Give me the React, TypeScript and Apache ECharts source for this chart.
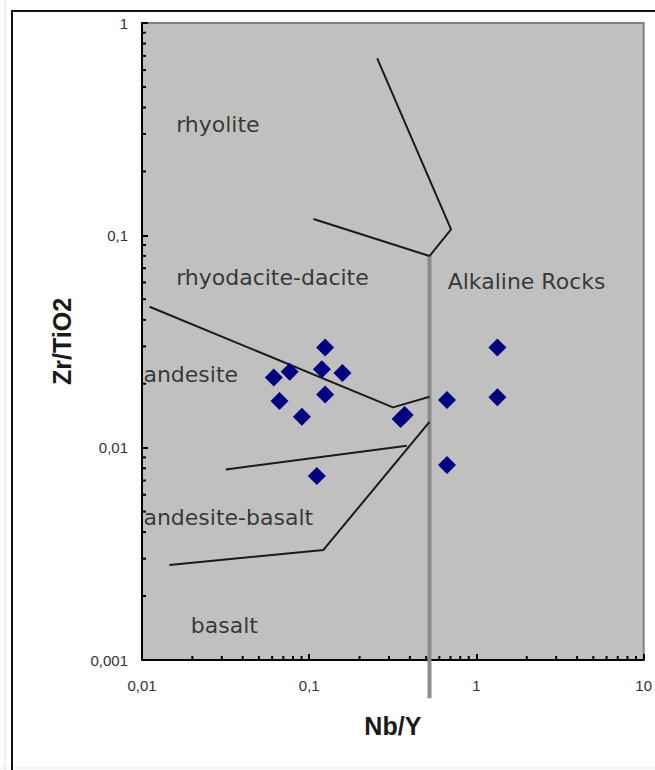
import React, { useEffect, useRef } from "react";
import * as echarts from "echarts";

// Axis tick labels (decimal comma, as in the reference)
const xTickLabels = ["0,01", "0,1", "1", "10"];
const yTickLabels = ["0,001", "0,01", "0,1", "1"];
const xAxisTitle = "Nb/Y";
const yAxisTitle = "Zr/TiO2";

// Minor tick multipliers per decade
const minorMultipliers = [2, 3, 4, 5, 6, 7, 8, 9];
const xDecades = [0.01, 0.1, 1];
const yDecades = [0.001, 0.01, 0.1];

// Samples (Nb/Y, Zr/TiO2)
const sampleNbY = [0.1245, 0.0764, 0.0614, 0.119, 0.158, 0.0664, 0.1245, 0.0904, 0.352, 0.372, 0.111, 1.334, 0.667, 1.334, 0.667];
const sampleZrTiO2 = [0.0296, 0.0228, 0.0214, 0.0234, 0.0225, 0.0166, 0.0178, 0.014, 0.01364, 0.01425, 0.00735, 0.0296, 0.01676, 0.01726, 0.00828];

// Field boundaries
const rhyoliteAlkalineX = [0.255, 0.705, 0.524];
const rhyoliteAlkalineY = [0.682, 0.1067, 0.0799];
const rhyoliteRhyodaciteX = [0.106, 0.524];
const rhyoliteRhyodaciteY = [0.1193, 0.0799];
const rhyodaciteAndesiteX = [0.0111, 0.317, 0.524];
const rhyodaciteAndesiteY = [0.0461, 0.01548, 0.01738];
const andesiteBasaltX = [0.0317, 0.384];
const andesiteBasaltY = [0.0079, 0.01022];
const basaltX = [0.01457, 0.1216, 0.524];
const basaltY = [0.0028, 0.0033, 0.01324];
const alkalineDividerX = [0.524, 0.524];
const alkalineDividerY = [0.0799, 0.00066];

// Field names
const fieldNames = ["rhyolite", "rhyodacite-dacite", "andesite", "Alkaline Rocks", "andesite-basalt", "basalt"];
const fieldNbY = [0.016, 0.016, 0.0102, 0.673, 0.0102, 0.0196];
const fieldZrTiO2 = [0.331, 0.0636, 0.0222, 0.0603, 0.00471, 0.00146];

const zip = (xs: number[], ys: number[]) => xs.map((x, i) => [x, ys[i]]);

export default function App() {
  const ref = useRef<HTMLDivElement>(null);
  useEffect(() => {
    if (!ref.current) return;
    const chart = echarts.init(ref.current, null, { renderer: "svg" });

    const boundary = (xs: number[], ys: number[]) => ({
      type: "line",
      data: zip(xs, ys),
      symbol: "none",
      lineStyle: { color: "#1a1a1a", width: 2 },
      silent: true,
      z: 3,
    });

    const xMinor: number[][] = [];
    xDecades.forEach((d) => minorMultipliers.forEach((m) => xMinor.push([d * m, 0.001])));
    const yMinor: number[][] = [];
    yDecades.forEach((d) => minorMultipliers.forEach((m) => yMinor.push([0.01, d * m])));

    const option: any = {
      animation: false,
      grid: {
        left: 142,
        top: 23,
        width: 505,
        height: 637,
        show: true,
        backgroundColor: "#c0c0c0",
        borderColor: "#808080",
        borderWidth: 2,
      },
      xAxis: {
        type: "log",
        logBase: 10,
        min: 0.01,
        max: 10,
        name: xAxisTitle,
        nameLocation: "middle",
        nameGap: 53,
        nameTextStyle: { fontFamily: "Liberation Sans, Arial", fontWeight: "bold", fontSize: 25, color: "#1a1a1a" },
        axisLine: { show: true, lineStyle: { color: "#000", width: 2 } },
        axisTick: { show: true, inside: true, length: 6, lineStyle: { color: "#000", width: 2 } },
        axisLabel: {
          margin: 18,
          fontFamily: "Liberation Sans, Arial",
          fontSize: 15,
          color: "#333",
          formatter: (v: number) => xTickLabels[Math.round(Math.log10(v)) + 2],
        },
        splitLine: { show: false },
      },
      yAxis: {
        type: "log",
        logBase: 10,
        min: 0.001,
        max: 1,
        name: yAxisTitle,
        nameLocation: "middle",
        nameRotate: 90,
        nameGap: 68,
        nameTextStyle: { fontFamily: "Liberation Sans, Arial", fontWeight: "bold", fontSize: 25, color: "#1a1a1a" },
        axisLine: { show: true, lineStyle: { color: "#000", width: 2 } },
        axisTick: { show: true, inside: true, length: 6, lineStyle: { color: "#000", width: 2 } },
        axisLabel: {
          margin: 14,
          fontFamily: "Liberation Sans, Arial",
          fontSize: 15,
          color: "#333",
          formatter: (v: number) => yTickLabels[Math.round(Math.log10(v)) + 3],
        },
        splitLine: { show: false },
      },
      graphic: [
        { type: "line", shape: { x1: 5, y1: 0, x2: 5, y2: 770 }, style: { stroke: "#e2e2e2", lineWidth: 1 } },
        { type: "line", shape: { x1: 0, y1: 768, x2: 655, y2: 768 }, style: { stroke: "#ececec", lineWidth: 1 } },
        { type: "rect", shape: { x: 12, y: 11, width: 700, height: 800 }, style: { fill: "none", stroke: "#111", lineWidth: 2 } },
      ],
      series: [
        {
          type: "custom",
          data: xMinor,
          silent: true,
          z: 4,
          renderItem: (params: any, api: any) => {
            const p = api.coord([api.value(0), api.value(1)]);
            return { type: "line", shape: { x1: p[0], y1: p[1], x2: p[0], y2: p[1] - 4 }, style: { stroke: "#000", lineWidth: 2 } };
          },
        },
        {
          type: "custom",
          data: yMinor,
          silent: true,
          z: 4,
          renderItem: (params: any, api: any) => {
            const p = api.coord([api.value(0), api.value(1)]);
            return { type: "line", shape: { x1: p[0], y1: p[1], x2: p[0] + 4, y2: p[1] }, style: { stroke: "#000", lineWidth: 2 } };
          },
        },
        {
          type: "line",
          data: zip(alkalineDividerX, alkalineDividerY),
          symbol: "none",
          clip: false,
          lineStyle: { color: "#8a8a8a", width: 4 },
          silent: true,
          z: 2,
        },
        boundary(rhyoliteAlkalineX, rhyoliteAlkalineY),
        boundary(rhyoliteRhyodaciteX, rhyoliteRhyodaciteY),
        boundary(rhyodaciteAndesiteX, rhyodaciteAndesiteY),
        boundary(andesiteBasaltX, andesiteBasaltY),
        boundary(basaltX, basaltY),
        {
          type: "scatter",
          data: fieldNames.map((n, i) => ({ name: n, value: [fieldNbY[i], fieldZrTiO2[i]] })),
          symbolSize: 0,
          silent: true,
          z: 5,
          label: {
            show: true,
            position: "right",
            distance: 0,
            formatter: (p: any) => p.name,
            fontFamily: "DejaVu Sans",
            fontSize: 22,
            color: "#111",
          },
        },
        {
          type: "scatter",
          data: zip(sampleNbY, sampleZrTiO2),
          symbol: "diamond",
          symbolSize: 18,
          itemStyle: { color: "#000080", opacity: 1 },
          z: 6,
        },
      ],
    };
    chart.setOption(option);
    return () => chart.dispose();
  }, []);
  return <div ref={ref} style={{ position: "absolute", left: 0, top: 0, width: 655, height: 770 }} />;
}
